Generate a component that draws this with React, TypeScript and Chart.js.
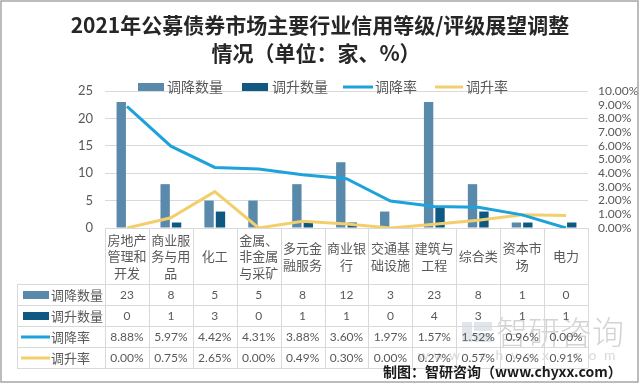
import React, { useEffect, useRef } from 'react';
import { Chart, registerables } from 'chart.js';

Chart.register(...registerables);

const titleLines = ['2021年公募债券市场主要行业信用等级/评级展望调整', '情况（单位：家、%）'];
const categories = [
  '房地产管理和开发', '商业服务与用品', '化工', '金属、非金属与采矿', '多元金融服务',
  '商业银行', '交通基础设施', '建筑与工程', '综合类', '资本市场', '电力',
];
const downCount = [23, 8, 5, 5, 8, 12, 3, 23, 8, 1, 0];
const upCount = [0, 1, 3, 0, 1, 1, 0, 4, 3, 1, 1];
const downRate = [8.88, 5.97, 4.42, 4.31, 3.88, 3.6, 1.97, 1.57, 1.52, 0.96, 0.0];
const upRate = [0.0, 0.75, 2.65, 0.0, 0.49, 0.3, 0.0, 0.27, 0.57, 0.96, 0.91];
const seriesNames = ['调降数量', '调升数量', '调降率', '调升率'];
const sourceText = '制图：智研咨询（www.chyxx.com）';
const watermark = '智研咨询';
const watermarkUrl = 'www.chyxx.com';

const C_DOWN_BAR = '#5a8aab';
const C_UP_BAR = '#0f5882';
const C_DOWN_LINE = '#1ea2da';
const C_UP_LINE = '#f3cf6c';
const TEXT = '#595959';
const GRID = '#d9d9d9';
const FONT = 'Lato, "Noto Sans CJK SC", sans-serif';
const CJK = '"Noto Sans CJK SC", sans-serif';

const fmtPct = (v: number) => v.toFixed(2) + '%';

function chunk(s: string, n: number): string[] {
  const arr = Array.from(s);
  const out: string[] = [];
  for (let i = 0; i < arr.length; i += n) out.push(arr.slice(i, i + n).join(''));
  return out;
}

const decorPlugin = {
  id: 'decor',
  beforeDraw(chart: any) {
    const ctx = chart.ctx;
    ctx.save();
    ctx.fillStyle = '#ffffff';
    ctx.fillRect(0, 0, chart.width, chart.height);
    ctx.restore();
  },
  afterDraw(chart: any) {
    const ctx: CanvasRenderingContext2D = chart.ctx;
    const area = chart.chartArea;
    const xs = chart.scales.x;
    const n = categories.length;
    ctx.save();

    // Title
    ctx.fillStyle = '#262626';
    ctx.font = `bold 21px ${CJK}`;
    ctx.textAlign = 'center';
    ctx.textBaseline = 'middle';
    ctx.fillText(titleLines[0], 320, 25);
    ctx.fillText(titleLines[1], 316, 53);

    // Legend
    const legY = 87;
    ctx.font = `14px ${CJK}`;
    ctx.textAlign = 'left';
    ctx.fillStyle = C_DOWN_BAR;
    ctx.fillRect(138, legY - 4, 26, 8);
    ctx.fillStyle = C_UP_BAR;
    ctx.fillRect(242, legY - 4, 26, 8);
    ctx.lineWidth = 3;
    ctx.strokeStyle = C_DOWN_LINE;
    ctx.beginPath(); ctx.moveTo(343, legY); ctx.lineTo(373, legY); ctx.stroke();
    ctx.strokeStyle = C_UP_LINE;
    ctx.beginPath(); ctx.moveTo(435, legY); ctx.lineTo(463, legY); ctx.stroke();
    ctx.fillStyle = TEXT;
    ctx.fillText(seriesNames[0], 167, legY);
    ctx.fillText(seriesNames[1], 272, legY);
    ctx.fillText(seriesNames[2], 375, legY);
    ctx.fillText(seriesNames[3], 466, legY);

    // Watermark (behind table text)
    ctx.fillStyle = 'rgba(120,140,170,0.22)';
    ctx.fillRect(462, 322, 10, 20);
    ctx.fillRect(474, 322, 18, 9);
    ctx.fillRect(474, 333, 18, 9);
    ctx.fillStyle = 'rgba(130,130,130,0.35)';
    ctx.font = `300 32px ${CJK}`;
    ctx.textAlign = 'left';
    ctx.fillText(watermark, 496, 332);
    ctx.font = `14px ${FONT}`;
    ctx.fillStyle = 'rgba(130,130,130,0.3)';
    const wchars = Array.from(watermarkUrl);
    wchars.forEach((c, i) => ctx.fillText(c, 418 + i * 15.5, 355));

    // Table geometry
    const left = area.left;
    const right = area.right;
    const top = area.bottom;
    const headBottom = 284;
    const rowH = 21;
    const rows = [headBottom, headBottom + rowH, headBottom + 2 * rowH, headBottom + 3 * rowH, headBottom + 4 * rowH];
    const tableLeft = 17;
    const bounds: number[] = [];
    for (let i = 0; i <= n; i++) bounds.push(left + ((right - left) * i) / n);

    ctx.strokeStyle = GRID;
    ctx.lineWidth = 1;
    ctx.beginPath();
    bounds.forEach((b) => {
      const x = Math.round(b) + 0.5;
      ctx.moveTo(x, top);
      ctx.lineTo(x, rows[4]);
    });
    rows.forEach((y) => {
      ctx.moveTo(tableLeft, y + 0.5);
      ctx.lineTo(right, y + 0.5);
    });
    ctx.moveTo(tableLeft + 0.5, rows[0]);
    ctx.lineTo(tableLeft + 0.5, rows[4]);
    ctx.stroke();

    // Category labels
    ctx.fillStyle = TEXT;
    ctx.font = `13px ${CJK}`;
    ctx.textAlign = 'center';
    ctx.textBaseline = 'middle';
    categories.forEach((c, i) => {
      const cx = xs.getPixelForValue(i);
      const lines = chunk(c, 3);
      const lh = 16.5;
      const cy = (top + headBottom) / 2 + 0.5;
      lines.forEach((ln, k) => {
        ctx.fillText(ln, cx, cy + (k - (lines.length - 1) / 2) * lh);
      });
    });

    // Row labels & values
    const rowData: string[][] = [
      downCount.map(String),
      upCount.map(String),
      downRate.map(fmtPct),
      upRate.map(fmtPct),
    ];
    for (let r = 0; r < 4; r++) {
      const cy = rows[r] + rowH / 2 + 0.5;
      if (r < 2) {
        ctx.fillStyle = r === 0 ? C_DOWN_BAR : C_UP_BAR;
        ctx.fillRect(23, cy - 4, 26, 8);
      } else {
        ctx.strokeStyle = r === 2 ? C_DOWN_LINE : C_UP_LINE;
        ctx.lineWidth = 3;
        ctx.beginPath(); ctx.moveTo(21, cy); ctx.lineTo(50, cy); ctx.stroke();
      }
      ctx.fillStyle = TEXT;
      ctx.font = `13px ${CJK}`;
      ctx.textAlign = 'left';
      ctx.fillText(seriesNames[r], 51, cy);
      ctx.font = `12px ${FONT}`;
      ctx.textAlign = 'center';
      rowData[r].forEach((t, i) => {
        ctx.fillText(t, xs.getPixelForValue(i), cy);
      });
    }

    // Source
    ctx.fillStyle = '#1a1a1a';
    ctx.font = `bold 14px ${CJK}`;
    ctx.textAlign = 'left';
    ctx.fillText(sourceText, 383, 372);

    // Border
    ctx.strokeStyle = '#a6a6a6';
    ctx.lineWidth = 1.5;
    ctx.strokeRect(1, 1, 637, 381);
    ctx.restore();
  },
};

export default function App() {
  const ref = useRef<HTMLCanvasElement | null>(null);
  useEffect(() => {
    if (!ref.current) return;
    const chart = new Chart(ref.current, {
      type: 'bar',
      data: {
        labels: categories,
        datasets: [
          {
            type: 'bar',
            label: seriesNames[0],
            data: downCount,
            backgroundColor: C_DOWN_BAR,
            yAxisID: 'y',
            order: 2,
            categoryPercentage: 0.52,
            barPercentage: 0.82,
          },
          {
            type: 'bar',
            label: seriesNames[1],
            data: upCount,
            backgroundColor: C_UP_BAR,
            yAxisID: 'y',
            order: 2,
            categoryPercentage: 0.52,
            barPercentage: 0.82,
          },
          {
            type: 'line',
            label: seriesNames[2],
            data: downRate,
            borderColor: C_DOWN_LINE,
            backgroundColor: C_DOWN_LINE,
            borderWidth: 3,
            pointRadius: 0,
            tension: 0,
            yAxisID: 'y1',
            order: 0,
          },
          {
            type: 'line',
            label: seriesNames[3],
            data: upRate,
            borderColor: C_UP_LINE,
            backgroundColor: C_UP_LINE,
            borderWidth: 3,
            pointRadius: 0,
            tension: 0,
            yAxisID: 'y1',
            order: 1,
          },
        ] as any,
      },
      options: {
        animation: false,
        responsive: false,
        maintainAspectRatio: false,
        devicePixelRatio: 1,
        layout: { padding: { top: 91, bottom: 156, left: 0, right: 0 } },
        plugins: {
          legend: { display: false },
          title: { display: false },
          tooltip: { enabled: false },
        },
        scales: {
          x: { display: false, offset: true },
          y: {
            position: 'left',
            min: 0,
            max: 25,
            ticks: { stepSize: 5, autoSkip: false, color: TEXT, font: { family: FONT, size: 13 }, padding: 12 },
            grid: { color: GRID, drawTicks: false },
            border: { display: false },
            afterFit: (s: any) => { s.width = 105; },
          },
          y1: {
            position: 'right',
            min: 0,
            max: 10,
            ticks: {
              stepSize: 1,
              autoSkip: false,
              color: TEXT,
              font: { family: FONT, size: 12 },
              padding: 10,
              callback: (v: any) => fmtPct(Number(v)),
            },
            grid: { display: false, drawTicks: false },
            border: { display: false },
            afterFit: (s: any) => { s.width = 52; },
          },
        },
      } as any,
      plugins: [decorPlugin],
    });
    return () => chart.destroy();
  }, []);
  return (
    <div style={{ position: 'fixed', left: 0, top: 0, width: 640, height: 384, background: '#fff' }}>
      <canvas ref={ref} width={640} height={384} style={{ display: 'block', width: 640, height: 384 }} />
    </div>
  );
}
